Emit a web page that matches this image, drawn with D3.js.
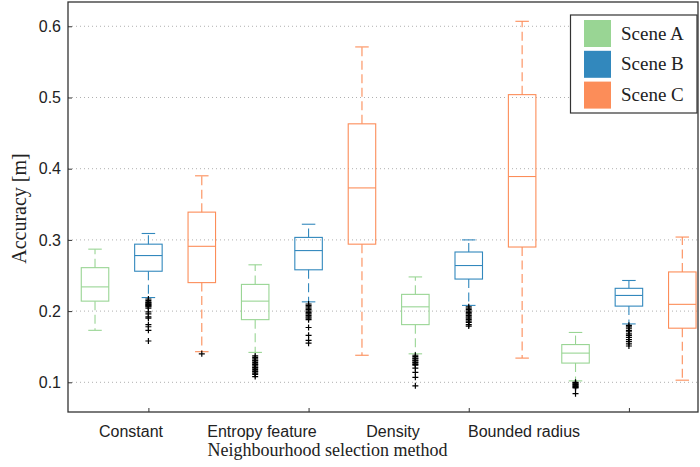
<!DOCTYPE html>
<html><head><meta charset="utf-8">
<script src="https://cdn.jsdelivr.net/npm/d3@7"></script>
<style>body{margin:0;background:#fff}svg{display:block}</style>
</head><body><svg id="c" width="700" height="467"></svg>
<script>
const methods = ["Constant", "Entropy feature", "Density", "Bounded radius"];
const scenes = ["Scene A", "Scene B", "Scene C"];
const sceneColors = ["#99d594", "#3288bd", "#fc8d59"];
const yTicks = [0.1, 0.2, 0.3, 0.4, 0.5, 0.6];
// box order: for each method, Scene A, B, C
const upperWhisker = [0.287, 0.309, 0.390, 0.265, 0.322, 0.571, 0.248, 0.300, 0.607, 0.170, 0.243, 0.304];
const q3 =           [0.261, 0.294, 0.339, 0.2375, 0.3035, 0.463, 0.2235, 0.283, 0.504, 0.153, 0.232, 0.255];
const medians =      [0.234, 0.278, 0.291, 0.214, 0.285, 0.373, 0.206, 0.264, 0.389, 0.141, 0.222, 0.2095];
const q1 =           [0.214, 0.256, 0.240, 0.188, 0.258, 0.294, 0.181, 0.245, 0.290, 0.127, 0.207, 0.176];
const lowerWhisker = [0.173, 0.219, 0.143, 0.142, 0.213, 0.138, 0.140, 0.208, 0.134, 0.102, 0.182, 0.103];
const outliers = [
  [],
  [0.217,0.215,0.213,0.212,0.211,0.210,0.209,0.208,0.207,0.206,0.204,0.199,0.196,0.192,0.190,0.181,0.178,0.173,0.158],
  [0.140],
  [0.137,0.135,0.133,0.131,0.130,0.128,0.126,0.125,0.123,0.121,0.120,0.118,0.116,0.115,0.113,0.111,0.108],
  [0.210,0.208,0.206,0.204,0.202,0.200,0.198,0.196,0.194,0.192,0.190,0.188,0.177,0.166,0.159,0.155],
  [],
  [0.138,0.136,0.134,0.133,0.131,0.130,0.128,0.127,0.125,0.124,0.120,0.114,0.107,0.095],
  [0.206,0.204,0.202,0.200,0.198,0.196,0.194,0.192,0.190,0.188,0.186,0.184,0.181,0.179],
  [],
  [0.100,0.099,0.098,0.097,0.096,0.095,0.094,0.093,0.092,0.084],
  [0.180,0.178,0.176,0.173,0.171,0.168,0.166,0.163,0.160,0.157,0.154,0.151],
  []
];

const svg = d3.select("#c");
const L = 68, R = 698, T = 2, B = 412;
const x = d3.scaleLinear().domain([-0.506, 11.294]).range([L, R]);
const y = d3.scaleLinear().domain([0.0583, 0.6341]).range([B, T]);
const labelX = d3.scalePoint().domain(methods).range([131, 524]);
const serif = "Liberation Serif";
const sans = "Liberation Sans";

// grid
svg.append("g").selectAll("line").data(yTicks).join("line")
  .attr("x1", L).attr("x2", R).attr("y1", d => y(d)).attr("y2", d => y(d))
  .attr("stroke", "#b0b0b0").attr("stroke-width", 1).attr("stroke-dasharray", "1,3");

// y axis
const yAxis = d3.axisLeft(y).tickValues(yTicks).tickFormat(d3.format(".1f")).tickSize(-4).tickPadding(7);
const gy = svg.append("g").attr("transform", `translate(${L},0)`).call(yAxis);
gy.select(".domain").remove();
gy.selectAll(".tick line").attr("stroke", "#333");
gy.selectAll("text").attr("font-family", sans).attr("font-size", 16).attr("fill", "#222");

// x axis ticks at group centres (Scene B boxes)
const groupIdx = methods.map((m, i) => i * 3 + 1);
const xAxis = d3.axisBottom(x).tickValues(groupIdx).tickFormat("").tickSize(-4);
const gx = svg.append("g").attr("transform", `translate(0,${B})`).call(xAxis);
gx.select(".domain").remove();
gx.selectAll(".tick line").attr("stroke", "#333");

// category labels
svg.append("g").selectAll("text").data(methods).join("text")
  .attr("x", d => labelX(d)).attr("y", 437).attr("text-anchor", "middle")
  .attr("font-family", sans).attr("font-size", 16).attr("fill", "#222").text(d => d);

// frame
svg.append("rect").attr("x", L).attr("y", T).attr("width", R - L).attr("height", B - T)
  .attr("fill", "none").attr("stroke", "#333").attr("stroke-width", 1.3);

// boxes
const boxW = 27.5, capW = 13.5;
const idx = d3.range(medians.length);
const gb = svg.append("g").selectAll("g").data(idx).join("g")
  .attr("stroke", i => sceneColors[i % 3]).attr("fill", "none").attr("stroke-width", 1.1);
gb.append("line").attr("x1", i => x(i)).attr("x2", i => x(i))
  .attr("y1", i => y(q3[i])).attr("y2", i => y(upperWhisker[i])).attr("stroke-dasharray", "9,4.5");
gb.append("line").attr("x1", i => x(i)).attr("x2", i => x(i))
  .attr("y1", i => y(q1[i])).attr("y2", i => y(lowerWhisker[i])).attr("stroke-dasharray", "9,4.5");
gb.append("line").attr("x1", i => x(i) - capW / 2).attr("x2", i => x(i) + capW / 2)
  .attr("y1", i => y(upperWhisker[i])).attr("y2", i => y(upperWhisker[i]));
gb.append("line").attr("x1", i => x(i) - capW / 2).attr("x2", i => x(i) + capW / 2)
  .attr("y1", i => y(lowerWhisker[i])).attr("y2", i => y(lowerWhisker[i]));
gb.append("rect").attr("x", i => x(i) - boxW / 2).attr("width", boxW)
  .attr("y", i => y(q3[i])).attr("height", i => y(q1[i]) - y(q3[i]));
gb.append("line").attr("x1", i => x(i) - boxW / 2).attr("x2", i => x(i) + boxW / 2)
  .attr("y1", i => y(medians[i])).attr("y2", i => y(medians[i]));

// outliers
const pts = idx.flatMap(i => outliers[i].map(v => ({ i, v })));
svg.append("g").selectAll("path").data(pts).join("path")
  .attr("d", d => `M${x(d.i) - 3},${y(d.v)}h6M${x(d.i)},${y(d.v) - 3}v6`)
  .attr("stroke", "#000").attr("stroke-width", 1.2).attr("fill", "none");

// axis titles
svg.append("text").attr("transform", "translate(26,208.5) rotate(-90)").attr("text-anchor", "middle")
  .attr("font-family", serif).attr("font-size", 20).attr("fill", "#222").text("Accuracy [m]");
svg.append("text").attr("x", 327.5).attr("y", 456).attr("text-anchor", "middle")
  .attr("font-family", serif).attr("font-size", 18).attr("fill", "#222").text("Neighbourhood selection method");

// legend
const lg = svg.append("g");
lg.append("rect").attr("x", 570.5).attr("y", 15).attr("width", 126.5).attr("height", 98)
  .attr("fill", "#fff").attr("stroke", "#333").attr("stroke-width", 1.2);
const li = lg.selectAll("g").data(scenes).join("g")
  .attr("transform", (d, i) => `translate(584,${20 + i * 30.8})`);
li.append("rect").attr("width", 27).attr("height", 27).attr("fill", (d, i) => sceneColors[i]);
li.append("text").attr("x", 37).attr("y", 19.5).attr("font-family", serif).attr("font-size", 19)
  .attr("fill", "#222").text(d => d);
</script></body></html>
